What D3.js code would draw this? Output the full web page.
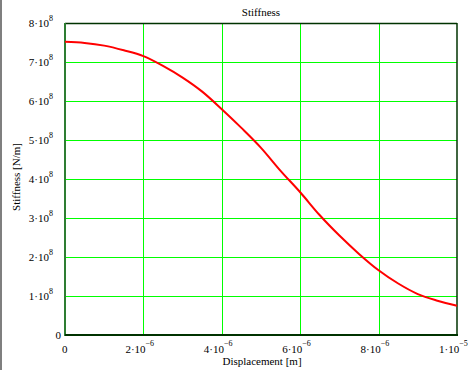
<!DOCTYPE html>
<html><head><meta charset="utf-8">
<script src="https://cdn.jsdelivr.net/npm/d3@7"></script>
<style>body{margin:0;background:#fff;} svg{display:block;} text{font-family:"Liberation Serif","Times New Roman",serif;fill:#000;}</style>
</head><body>
<svg id="c" width="469" height="370"></svg>
<script>
const displacement = [0,0.5e-6,1e-6,1.5e-6,2e-6,2.5e-6,3e-6,3.5e-6,4e-6,4.5e-6,5e-6,5.5e-6,6e-6,6.5e-6,7e-6,7.5e-6,8e-6,8.5e-6,9e-6,9.5e-6,1e-5];
const stiffness = [7.52e8,7.49e8,7.42e8,7.30e8,7.15e8,6.90e8,6.60e8,6.24e8,5.79e8,5.31e8,4.80e8,4.21e8,3.66e8,3.07e8,2.55e8,2.08e8,1.66e8,1.32e8,1.05e8,0.88e8,0.75e8];
const xTicks = [0,2e-6,4e-6,6e-6,8e-6,1e-5];
const xMant = ["0","2","4","6","8","1"];
const xExp = ["","−6","−6","−6","−6","−5"];
const yTicks = [0,1e8,2e8,3e8,4e8,5e8,6e8,7e8,8e8];
const yMant = ["0","1","2","3","4","5","6","7","8"];
const yExp = ["","8","8","8","8","8","8","8","8"];

const svg = d3.select("#c");
const L=65,R=457,T=23,B=335;
const x = d3.scaleLinear().domain([0,1e-5]).range([L,R]);
const y = d3.scaleLinear().domain([0,8e8]).range([B,T]);

svg.append("rect").attr("x",0).attr("y",0).attr("width",2).attr("height",370).attr("fill","#7f7f7f");

svg.append("g").selectAll("line").data(xTicks.slice(1,-1)).join("line")
  .attr("x1",d=>Math.round(x(d))+0.5).attr("x2",d=>Math.round(x(d))+0.5).attr("y1",T).attr("y2",B)
  .attr("stroke","#00ff00").attr("stroke-width",1);
svg.append("g").selectAll("line").data(yTicks.slice(1,-1)).join("line")
  .attr("y1",d=>Math.round(y(d))+0.5).attr("y2",d=>Math.round(y(d))+0.5).attr("x1",L).attr("x2",R)
  .attr("stroke","#00ff00").attr("stroke-width",1);

svg.append("line").attr("x1",L).attr("x2",R).attr("y1",T+0.5).attr("y2",T+0.5).attr("stroke","#003300").attr("stroke-width",1.5);
svg.append("line").attr("x1",R).attr("x2",R).attr("y1",T).attr("y2",B).attr("stroke","#003300").attr("stroke-width",1.5);
svg.append("line").attr("x1",L).attr("x2",L).attr("y1",T).attr("y2",B+1).attr("stroke","#2e7d32").attr("stroke-width",2);
svg.append("line").attr("x1",L).attr("x2",R+1).attr("y1",B).attr("y2",B).attr("stroke","#003300").attr("stroke-width",2);

const line = d3.line().x((d,i)=>x(displacement[i])).y(d=>y(d)).curve(d3.curveMonotoneX);
svg.append("path").datum(stiffness).attr("d",line).attr("fill","none").attr("stroke","#ff0000").attr("stroke-width",2);

const yl = svg.append("g").selectAll("text").data(yTicks).join("text")
  .attr("text-anchor","end").attr("font-size",11)
  .attr("x",(d,i)=> yExp[i] ? 53 : 61)
  .attr("y",d=>y(d)+4);
yl.each(function(d,i){
  const t=d3.select(this);
  if(!yExp[i]){t.text(yMant[i]);return;}
  t.append("tspan").text(yMant[i]+"·10");
  t.append("tspan").attr("dy",-6).attr("font-size",8).text(yExp[i]);
});

const xl = svg.append("g").selectAll("text").data(xTicks).join("text")
  .attr("font-size",11)
  .attr("x",(d,i)=> xExp[i] ? x(d)-18 : x(d)-3)
  .attr("y",353);
xl.each(function(d,i){
  const t=d3.select(this);
  if(!xExp[i]){t.text(xMant[i]);return;}
  t.append("tspan").text(xMant[i]+"·10");
  t.append("tspan").attr("dy",-7).attr("font-size",8).text(xExp[i]);
});

svg.append("text").attr("x",261).attr("y",16).attr("text-anchor","middle").attr("font-size",11).text("Stiffness");
svg.append("text").attr("x",262).attr("y",365).attr("text-anchor","middle").attr("font-size",11).text("Displacement [m]");
svg.append("text").attr("transform","translate(20,177) rotate(-90)").attr("text-anchor","middle").attr("font-size",11).text("Stiffness [N/m]");
</script>
</body></html>
